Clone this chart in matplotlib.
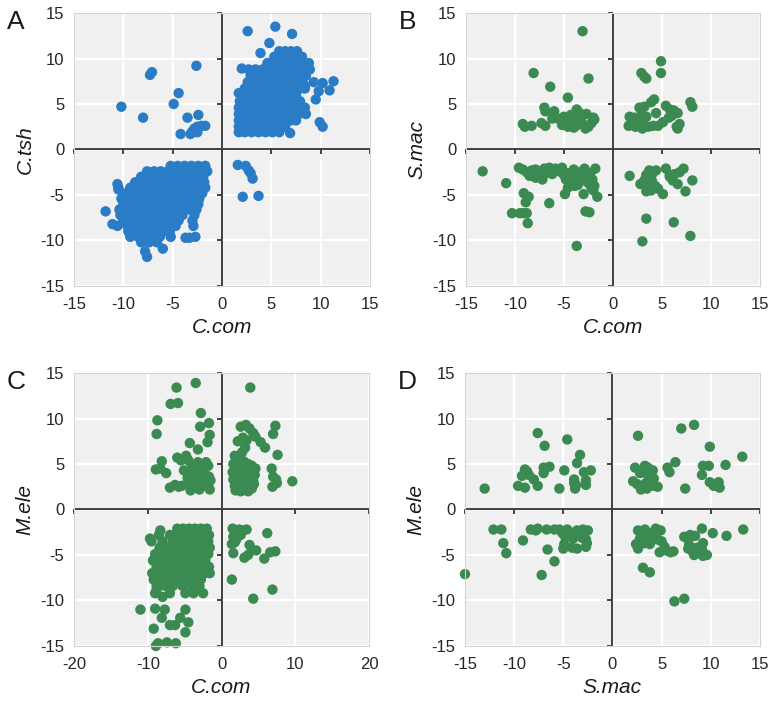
import matplotlib
matplotlib.use("Agg")
import matplotlib.pyplot as plt

plt.rcParams['font.family'] = ['Liberation Sans', 'DejaVu Sans']
plt.rcParams['axes.unicode_minus'] = False

BLUE = '#2a7cc6'
GREEN = '#3b8a52'

# ---------------- Panel A: C.com (x) vs C.tsh (y) ----------------
A_ur_rows = [
    (1.9, [1.7, 2.3, 3.0, 3.7, 4.4, 5.1, 5.8]),
    (2.5, [1.7, 2.2, 2.9, 3.6, 4.3, 5.0, 5.7, 6.4]),
    (3.2, [1.7, 2.1, 2.8, 3.5, 4.2, 4.9, 5.6, 6.3, 7.0, 7.5]),
    (3.9, [1.7, 2.2, 2.9, 3.6, 4.3, 5.0, 5.7, 6.4, 7.1, 7.8, 8.5]),
    (4.6, [1.7, 2.1, 2.8, 3.5, 4.2, 4.9, 5.6, 6.3, 7.0, 7.7, 8.4]),
    (5.3, [1.8, 2.3, 3.0, 3.7, 4.4, 5.1, 5.8, 6.5, 7.2, 7.9]),
    (6.0, [2.0, 2.6, 3.3, 4.0, 4.7, 5.4, 6.1, 6.8, 7.5]),
    (6.7, [2.3, 3.0, 3.7, 4.4, 5.1, 5.8, 6.5, 7.2, 7.9, 8.4]),
    (7.4, [2.6, 3.3, 4.0, 4.7, 5.4, 6.1, 6.8, 7.5, 8.1]),
    (8.1, [2.9, 3.6, 4.3, 5.0, 5.7, 6.4, 7.1, 7.8, 8.5]),
    (8.8, [2.7, 3.4, 4.1, 4.8, 5.5, 6.2, 6.9, 7.6, 8.3, 8.9]),
    (9.5, [4.6, 5.3, 6.0, 6.7, 7.4, 8.1, 8.8]),
    (10.2, [5.3, 6.0, 6.7, 7.4, 8.1]),
    (10.8, [5.8, 6.4, 7.0, 7.6]),
]
A_ur_extra = [(2.6, 13.0), (5.4, 13.5), (7.1, 12.7), (4.8, 11.7), (3.9, 10.6),
              (2.0, 8.9), (1.7, 6.2), (9.3, 7.4), (10.2, 7.3), (11.3, 7.5),
              (9.8, 6.4), (10.9, 6.5), (9.5, 5.5), (9.9, 3.0), (10.2, 2.5),
              (6.9, 1.8), (8.4, 7.0), (8.7, 9.3)]
A_ul = [(-10.2, 4.7), (-8.0, 3.5), (-7.3, 8.2), (-7.1, 8.5), (-2.6, 9.2),
        (-4.4, 6.2), (-4.9, 5.0), (-3.5, 3.5), (-2.4, 3.8), (-4.2, 1.7),
        (-3.2, 1.7), (-3.0, 2.0), (-2.8, 2.3), (-2.5, 2.5), (-2.1, 2.6),
        (-1.7, 2.6), (-2.5, 1.9)]
A_lr = [(1.6, -1.7), (2.4, -1.8), (2.7, -2.3), (2.9, -2.6), (3.1, -3.2),
        (2.1, -5.2), (3.7, -5.1)]
A_ll_rows = [
    (-1.8, [-5.2, -4.5, -3.8, -3.1, -2.4, -1.7]),
    (-2.4, [-7.6, -6.9, -6.2, -5.5, -4.8, -4.1, -3.4, -2.7, -2.0, -1.5]),
    (-3.0, [-8.2, -7.5, -6.8, -6.1, -5.4, -4.7, -4.0, -3.3, -2.6, -1.9]),
    (-3.6, [-8.8, -8.1, -7.4, -6.7, -6.0, -5.3, -4.6, -3.9, -3.2, -2.5, -1.8]),
    (-4.2, [-10.5, -9.3, -8.6, -7.9, -7.2, -6.5, -5.8, -5.1, -4.4, -3.7, -3.0, -2.3, -1.7]),
    (-4.8, [-9.7, -9.0, -8.3, -7.6, -6.9, -6.2, -5.5, -4.8, -4.1, -3.4, -2.7, -2.0]),
    (-5.4, [-10.2, -9.5, -8.8, -8.1, -7.4, -6.7, -6.0, -5.3, -4.6, -3.9, -3.2, -2.3]),
    (-6.0, [-10.0, -9.3, -8.6, -7.9, -7.2, -6.5, -5.8, -5.1, -4.4, -3.7, -3.0, -2.4]),
    (-6.6, [-10.4, -9.7, -9.0, -8.3, -7.6, -6.9, -6.2, -5.5, -4.8, -4.1, -3.3, -2.6]),
    (-7.2, [-10.3, -9.6, -8.9, -8.2, -7.5, -6.8, -6.1, -5.4, -4.7, -4.0, -2.8]),
    (-7.8, [-10.0, -9.3, -8.6, -7.9, -7.2, -6.5, -5.8, -5.1, -4.4, -3.0]),
    (-8.4, [-10.6, -9.6, -8.9, -8.2, -7.5, -6.8, -6.1, -5.4, -4.7, -2.9]),
    (-9.0, [-9.5, -8.8, -8.1, -7.4, -6.7, -6.0, -5.3]),
    (-9.6, [-9.3, -8.5, -7.8, -7.0, -6.3, -5.2]),
    (-10.2, [-8.2, -7.4, -6.6]),
]
A_ll_extra = [(-11.8, -6.8), (-11.1, -8.2), (-10.6, -3.8), (-7.6, -11.8),
              (-7.8, -11.2), (-6.0, -10.9), (-3.7, -9.7), (-3.3, -9.7),
              (-2.7, -9.6), (-10.5, -4.4)]

# ---------------- Panel B: C.com (x) vs S.mac (y) ----------------
B_ul = [(-3.1, 13.0), (-8.1, 8.4), (-2.5, 7.8), (-6.4, 6.9), (-4.6, 5.7),
        (-7.0, 4.6), (-6.9, 4.2), (-6.0, 4.2), (-3.7, 4.4), (-3.4, 4.0),
        (-2.7, 3.9), (-9.2, 2.8), (-9.0, 2.5), (-8.3, 2.6), (-7.3, 2.9),
        (-6.9, 2.6), (-6.2, 3.4), (-5.6, 3.4), (-5.0, 3.6), (-4.8, 2.9),
        (-4.4, 3.0), (-4.3, 3.8), (-4.0, 3.3), (-3.8, 2.6), (-4.6, 2.5),
        (-3.2, 3.0), (-2.8, 2.3), (-2.5, 2.5), (-2.2, 2.9), (-1.9, 3.3),
        (-2.0, 3.5), (-5.2, 2.7), (-4.0, 2.4), (-3.5, 2.8), (-4.8, 3.2)]
B_ur = [(2.9, 8.4), (3.2, 8.0), (3.4, 7.8), (4.9, 9.7), (4.9, 8.4),
        (4.2, 5.5), (3.9, 5.2), (2.7, 4.6), (3.2, 4.7), (5.4, 4.8),
        (5.8, 4.4), (6.2, 4.3), (6.6, 4.0), (7.9, 5.2), (8.1, 4.7),
        (4.4, 4.0), (1.7, 3.6), (2.2, 3.5), (2.5, 3.0), (3.0, 3.3),
        (3.4, 3.6), (1.6, 2.6), (2.3, 2.5), (3.0, 2.3), (3.6, 2.5),
        (4.1, 2.6), (4.6, 2.6), (5.1, 3.0), (5.7, 3.5), (6.0, 3.7),
        (6.5, 2.5), (6.8, 2.8), (6.6, 2.3), (2.7, 2.8), (2.9, 3.8)]
B_ll = [(-13.3, -2.4), (-10.9, -3.7), (-10.3, -7.0), (-9.5, -7.0), (-9.1, -7.0),
        (-8.8, -7.0), (-8.7, -8.1), (-8.9, -5.8), (-8.6, -5.2), (-9.1, -4.8),
        (-6.5, -5.9), (-4.9, -4.9), (-3.0, -4.9), (-2.8, -6.8), (-2.4, -6.9),
        (-3.7, -10.6), (-1.6, -5.2), (-2.0, -4.5), (-9.6, -2.0), (-9.2, -2.2),
        (-8.8, -2.5), (-8.3, -2.3), (-7.9, -2.2), (-7.5, -2.7), (-7.0, -2.1),
        (-6.8, -2.6), (-6.5, -2.0), (-6.2, -2.7), (-5.9, -2.1), (-5.5, -2.4),
        (-5.2, -2.0), (-5.0, -2.8), (-4.8, -3.3), (-4.5, -2.6), (-4.3, -3.6),
        (-4.0, -2.2), (-3.8, -3.0), (-3.6, -3.9), (-3.4, -2.5), (-3.1, -3.4),
        (-2.9, -2.1), (-2.7, -3.0), (-2.5, -3.7), (-2.3, -2.6), (-2.1, -3.3),
        (-1.8, -2.1), (-1.9, -4.0), (-7.9, -3.1), (-8.5, -2.9), (-4.6, -4.2),
        (-3.9, -4.0), (-2.2, -4.2), (-7.2, -3.3)]
B_lr = [(1.7, -2.9), (3.4, -2.8), (3.7, -2.3), (4.0, -2.7), (4.4, -2.3),
        (5.4, -2.1), (5.8, -2.8), (6.3, -2.7), (6.8, -2.5), (7.2, -2.1),
        (2.8, -3.8), (3.2, -3.4), (3.6, -3.9), (4.0, -3.5), (4.3, -4.0),
        (3.4, -4.6), (3.9, -4.5), (4.6, -4.3), (5.1, -4.9), (6.1, -3.4),
        (6.6, -3.8), (7.4, -4.6), (8.1, -3.4), (3.4, -7.6), (6.2, -8.0),
        (7.9, -9.5), (3.0, -10.1), (5.8, -3.0)]

# ---------------- Panel C: C.com (x) vs M.ele (y) ----------------
C_ul = [(-3.5, 13.9), (-6.1, 13.4), (-6.9, 11.6), (-5.9, 11.7), (-2.8, 10.6),
        (-8.7, 9.8), (-8.8, 8.3), (-2.9, 9.1), (-1.7, 9.5), (-1.6, 8.2),
        (-1.9, 7.4), (-4.3, 7.3), (-3.2, 6.6), (-8.1, 5.3), (-8.9, 4.4),
        (-8.3, 4.5), (-7.5, 4.0), (-6.0, 5.7), (-5.5, 5.4), (-4.8, 5.9),
        (-4.5, 5.4), (-4.0, 4.9), (-3.2, 5.2), (-2.5, 5.0), (-1.8, 4.8),
        (-5.1, 4.3), (-4.3, 4.0), (-3.6, 4.3), (-3.0, 3.9), (-2.3, 4.0),
        (-1.7, 3.6), (-7.0, 2.4), (-6.3, 2.7), (-5.4, 2.6), (-4.7, 2.8),
        (-4.2, 2.1), (-3.6, 2.6), (-3.0, 2.2), (-2.4, 2.7), (-1.6, 2.2),
        (-3.9, 3.3), (-3.3, 3.1), (-2.7, 3.3), (-2.0, 3.0), (-1.5, 3.2),
        (-4.6, 3.5), (-5.8, 2.5), (-3.2, 4.6), (-2.1, 5.2), (-1.8, 2.5)]
C_ur = [(3.9, 13.4), (2.6, 9.1), (3.3, 9.3), (3.8, 8.9), (4.3, 8.4),
        (4.6, 8.0), (5.3, 7.4), (5.9, 6.8), (7.3, 9.2), (7.0, 8.3),
        (7.6, 6.0), (2.9, 7.9), (3.4, 7.6), (2.2, 7.5), (3.2, 6.8),
        (2.8, 6.3), (1.8, 5.9), (2.4, 5.3), (6.8, 4.5), (7.0, 3.6),
        (7.4, 3.3), (6.9, 2.5), (9.6, 3.1), (7.5, 2.9), (1.6, 5.0),
        (2.1, 4.6), (2.6, 5.2), (3.0, 5.3), (3.6, 5.0), (4.1, 4.8),
        (1.5, 4.1), (2.0, 3.9), (2.5, 4.2), (3.0, 4.3), (3.5, 4.1),
        (4.0, 4.0), (4.5, 3.8), (1.6, 3.3), (2.2, 3.2), (2.8, 3.5),
        (3.3, 3.4), (3.8, 3.3), (4.3, 3.1), (1.8, 2.6), (2.4, 2.5),
        (3.0, 2.7), (3.5, 2.5), (4.1, 2.3), (1.9, 2.1), (2.6, 2.0),
        (3.6, 2.0), (4.4, 2.8), (3.2, 2.2), (4.6, 4.5)]
C_ll_rows = [
    (-2.1, [-6.0, -5.2, -4.4, -3.6, -2.8, -2.0]),
    (-2.8, [-8.5, -7.0, -6.3, -5.5, -4.7, -3.9, -3.1, -2.3, -1.7]),
    (-3.5, [-9.5, -8.0, -6.6, -5.8, -5.0, -4.2, -3.4, -2.6, -1.8]),
    (-4.2, [-8.4, -7.2, -6.2, -5.4, -4.6, -3.8, -3.0, -2.2, -1.6]),
    (-4.9, [-9.0, -8.0, -7.0, -5.8, -5.0, -4.2, -3.4, -2.6, -1.8]),
    (-5.6, [-9.3, -8.6, -7.6, -6.5, -5.4, -4.6, -3.8, -3.0, -2.2]),
    (-6.3, [-8.8, -8.0, -7.2, -6.0, -5.0, -4.2, -3.4, -2.5, -1.7]),
    (-7.0, [-9.4, -8.4, -7.5, -6.6, -5.6, -4.4, -3.2, -2.3, -1.6]),
    (-7.7, [-9.2, -8.2, -7.0, -6.0, -5.0, -4.0, -2.8]),
    (-8.4, [-8.8, -7.6, -6.6, -5.3, -4.0, -3.0]),
    (-9.2, [-9.0, -7.0, -4.9, -3.8, -2.5]),
]
C_ll_extra = [(-8.3, -2.3), (-9.7, -3.2), (-8.8, -8.8), (-8.0, -9.6),
              (-11.0, -11.0), (-9.0, -10.9), (-7.7, -11.0), (-8.1, -11.9),
              (-7.0, -12.7), (-6.3, -12.7), (-4.9, -11.0), (-5.6, -11.9),
              (-4.5, -12.4), (-4.9, -13.5), (-9.2, -13.1), (-8.6, -14.7),
              (-7.4, -14.6), (-6.2, -14.7), (-8.9, -15.0)]
C_lr = [(1.5, -2.1), (1.9, -2.3), (2.4, -2.2), (2.9, -2.3), (3.4, -2.2),
        (1.6, -3.0), (2.0, -3.3), (2.6, -2.8), (1.4, -3.8), (1.8, -3.6),
        (1.6, -4.8), (3.8, -3.9), (4.1, -4.5), (4.7, -4.5), (3.1, -5.3),
        (3.6, -5.0), (6.2, -2.6), (6.6, -4.7), (7.3, -4.6), (5.8, -5.4),
        (1.4, -7.7), (6.9, -8.8), (4.3, -9.8)]

# ---------------- Panel D: S.mac (x) vs M.ele (y) ----------------
D_ul = [(-13.0, 2.3), (-7.6, 8.4), (-4.6, 7.7), (-6.9, 7.0), (-3.3, 6.0),
        (-3.6, 5.1), (-2.2, 4.3), (-2.9, 4.1), (-4.9, 4.3), (-6.4, 4.7),
        (-7.0, 4.6), (-7.0, 4.0), (-8.9, 4.4), (-9.2, 3.7), (-8.5, 3.8),
        (-8.0, 3.3), (-7.6, 2.6), (-9.6, 2.6), (-8.9, 2.4), (-5.4, 2.3),
        (-3.9, 3.3), (-3.7, 2.7), (-3.8, 2.3), (-2.7, 3.2), (-2.7, 2.7),
        (-3.9, 2.9), (-8.7, 4.2)]
D_ur = [(2.6, 8.1), (7.0, 8.9), (8.3, 9.3), (9.9, 6.9), (13.2, 5.8),
        (11.5, 4.9), (6.4, 5.2), (5.6, 4.6), (5.8, 4.1), (9.2, 4.8),
        (9.8, 4.8), (9.1, 3.8), (9.9, 3.0), (10.3, 2.6), (10.8, 3.0),
        (10.9, 2.4), (7.4, 2.3), (2.3, 4.6), (3.3, 4.8), (3.6, 4.6),
        (4.1, 4.3), (2.8, 4.0), (3.6, 3.8), (4.2, 3.4), (2.1, 3.1),
        (2.5, 2.8), (3.0, 2.5), (3.4, 2.9), (3.8, 3.2), (4.2, 2.6),
        (4.6, 2.5), (2.9, 2.2), (3.5, 2.3), (3.9, 2.8)]
D_ll = [(-15.0, -7.1), (-12.1, -2.2), (-11.3, -2.2), (-11.1, -3.7), (-10.8, -4.8),
        (-9.1, -3.4), (-8.3, -2.2), (-7.8, -2.3), (-7.6, -2.1), (-6.7, -2.2),
        (-6.6, -4.4), (-5.9, -5.7), (-7.2, -7.2), (-5.9, -2.2), (-5.4, -2.2),
        (-5.1, -2.6), (-4.8, -3.0), (-4.9, -3.8), (-5.0, -4.3), (-4.6, -2.2),
        (-4.3, -2.6), (-4.0, -3.2), (-4.1, -4.2), (-3.6, -4.3), (-3.6, -2.3),
        (-3.3, -2.6), (-3.0, -2.2), (-3.1, -3.1), (-2.7, -3.3), (-2.5, -2.3),
        (-2.6, -3.7), (-2.7, -4.1), (-3.8, -2.5), (-4.6, -2.8)]
D_lr = [(2.6, -2.3), (3.3, -2.2), (3.8, -2.6), (4.4, -2.1), (4.9, -2.3),
        (2.4, -3.8), (2.8, -3.2), (3.0, -2.8), (3.3, -3.7), (3.6, -3.2),
        (3.8, -3.8), (4.2, -2.9), (4.6, -3.3), (5.0, -3.5), (5.3, -4.1),
        (2.6, -4.3), (4.8, -4.7), (5.5, -4.5), (5.9, -4.7), (6.2, -4.6),
        (7.3, -3.0), (7.7, -3.3), (7.9, -2.8), (8.4, -2.9), (9.1, -2.1),
        (10.2, -2.6), (11.6, -2.9), (13.3, -2.2), (7.8, -3.9), (7.7, -4.3),
        (8.2, -4.7), (8.3, -5.0), (9.2, -3.7), (9.1, -4.4), (9.2, -5.1),
        (9.6, -5.0), (8.6, -4.2), (3.1, -6.4), (3.8, -6.9), (6.3, -10.1),
        (7.3, -9.8)]

ticks15 = [-15, -10, -5, 0, 5, 10, 15]
ticks20 = [-20, -10, 0, 10, 20]


def rows_to_pts(rows):
    return [(x, y) for y, xs in rows for x in xs]


panels = [
    dict(letter='A', pts=rows_to_pts(A_ur_rows) + A_ur_extra + A_ul + A_lr
         + rows_to_pts(A_ll_rows) + A_ll_extra,
         color=BLUE, xlabel='C.com', ylabel='C.tsh', xticks=ticks15,
         yticks=ticks15, rect=[0.0959, 0.5932, 0.3834, 0.3883]),
    dict(letter='B', pts=B_ul + B_ur + B_ll + B_lr, color=GREEN,
         xlabel='C.com', ylabel='S.mac', xticks=ticks15, yticks=ticks15,
         rect=[0.6036, 0.5932, 0.3808, 0.3883]),
    dict(letter='C', pts=C_ul + C_ur + rows_to_pts(C_ll_rows) + C_ll_extra + C_lr,
         color=GREEN, xlabel='C.com', ylabel='M.ele', xticks=ticks20,
         yticks=ticks15, rect=[0.0959, 0.0811, 0.3821, 0.3883]),
    dict(letter='D', pts=D_ul + D_ur + D_ll + D_lr, color=GREEN,
         xlabel='S.mac', ylabel='M.ele', xticks=ticks15, yticks=ticks15,
         rect=[0.6023, 0.0811, 0.3821, 0.3883]),
]

fig = plt.figure(figsize=(7.72, 7.03), dpi=100)
AXC = '#404040'
for p in panels:
    ax = fig.add_axes(p['rect'])
    xs = [q[0] for q in p['pts']]
    ys = [q[1] for q in p['pts']]
    ax.set_facecolor('#f0f0f0')
    ax.set_xlim(p['xticks'][0], p['xticks'][-1])
    ax.set_ylim(p['yticks'][0], p['yticks'][-1])
    ax.set_xticks(p['xticks'])
    ax.set_yticks(p['yticks'])
    ax.grid(True, color='white', lw=1.6)
    ax.set_axisbelow(True)
    for s in ax.spines.values():
        s.set_color('#d4d4d4')
        s.set_linewidth(0.8)
    ax.tick_params(length=0, labelsize=12, colors='#262626')
    ax.tick_params(axis='y', pad=7)
    ax.tick_params(axis='x', pad=8)
    ax.axhline(0, color=AXC, lw=1.4, zorder=1.5)
    ax.axvline(0, color=AXC, lw=1.4, zorder=1.5)
    ax.plot(p['xticks'], [0] * len(p['xticks']), ls='none', marker=3, ms=3.5,
            mew=1.4, color=AXC, zorder=1.5, clip_on=False)
    ax.plot([0] * len(p['yticks']), p['yticks'], ls='none', marker=0, ms=3.5,
            mew=1.4, color=AXC, zorder=1.5, clip_on=False)
    ax.scatter(xs, ys, s=56, color=p['color'], edgecolors='none', zorder=2,
               clip_on=False)
    ax.set_xlabel(p['xlabel'], fontsize=15, style='italic', labelpad=4,
                  color='#1a1a1a')
    ax.set_ylabel(p['ylabel'], fontsize=15, style='italic', labelpad=4,
                  color='#1a1a1a')
    x0 = p['rect'][0]
    y1 = p['rect'][1] + p['rect'][3]
    fig.text(x0 - 0.087, y1 + 0.004, p['letter'], fontsize=19, va='top',
             ha='left', color='#1a1a1a')

fig.savefig('out.png', dpi=100)
